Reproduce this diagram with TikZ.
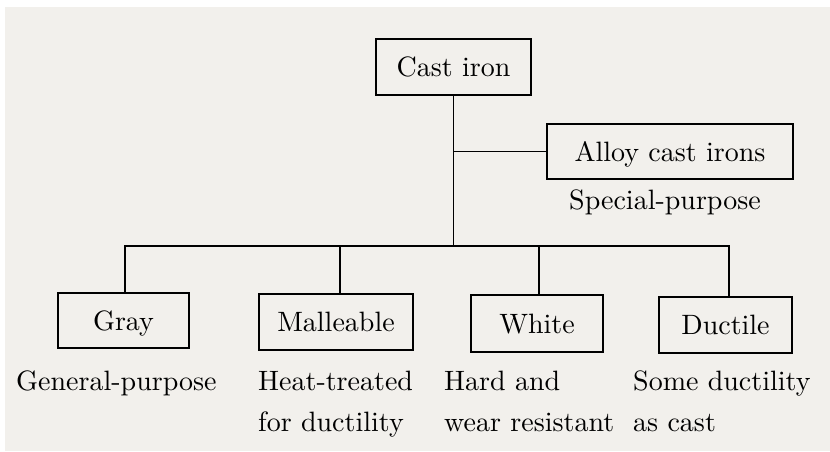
\documentclass[tikz,border=0pt]{standalone}
\usepackage{fontspec}
\setmainfont{lmroman10-regular}[Extension=.otf]
\definecolor{paper}{RGB}{242,240,236}
\begin{document}
\begin{tikzpicture}[x=1pt,y=-1pt,
  box/.style={draw, line width=1.8pt, rectangle, inner sep=0pt, text height=19.1pt, text depth=0pt, font=\fontsize{28}{41}\selectfont},
  note/.style={anchor=base west, inner sep=0pt, align=left, font=\fontsize{28}{41}\selectfont},
  link/.style={line width=1.8pt}]
\useasboundingbox (0,0) rectangle (830,451);
\fill[white] (0,0) rectangle (830,451);
\fill[paper] (5,7) rectangle (830,451);
\node[box, minimum width=155pt, minimum height=56pt] (cast) at (453.5,67) {Cast iron};
\node[box, minimum width=246pt, minimum height=55pt] (alloy) at (670,151.5) {Alloy cast irons};
\node[box, minimum width=131pt, minimum height=55pt] (gray) at (123.5,320.5) {Gray};
\node[box, minimum width=154pt, minimum height=56pt] (mall) at (336,322) {Malleable};
\node[box, minimum width=132pt, minimum height=57pt] (white) at (537,323.5) {White};
\node[box, minimum width=133pt, minimum height=56pt] (duct) at (725.5,325) {Ductile};
\node[note] (nspec) at (569,209) {Special-purpose};
\node[note] (ngray) at (16,390) {General-purpose};
\node[note] (nmall) at (258,431) {Heat-treated\\for ductility};
\node[note] (nwhite) at (444,431) {Hard and\\wear resistant};
\node[note] (nduct) at (633,431) {Some ductility\\as cast};
\coordinate (bus) at (453.5,246);
\draw[link] (cast.south) -- (bus);
\draw[link] (alloy.west) -- (alloy.west -| cast.south);
\draw[link] ([xshift=1.5pt]gray.north) |- (bus);
\draw[link] ([xshift=3.5pt]duct.north) |- (bus);
\draw[link] ([xshift=4pt]mall.north) -- ([xshift=4pt]mall.north |- bus);
\draw[link] ([xshift=2pt]white.north) -- ([xshift=2pt]white.north |- bus);
\end{tikzpicture}
\end{document}
